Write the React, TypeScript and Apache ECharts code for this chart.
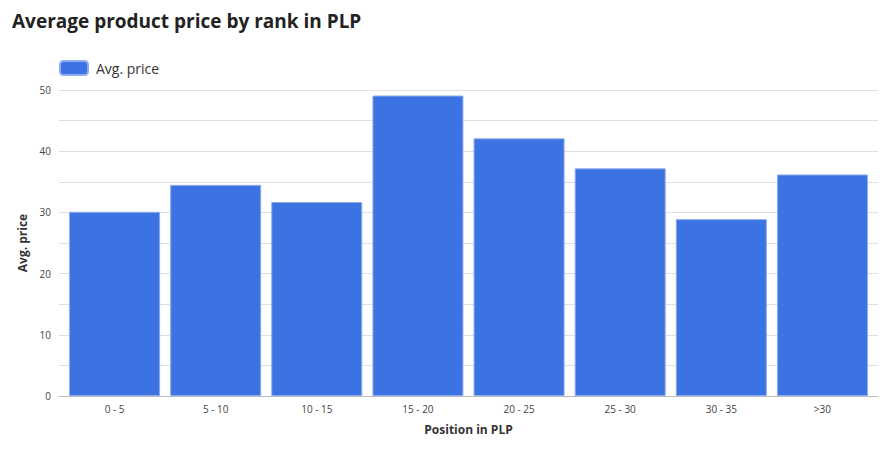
import React, { useEffect, useRef } from "react";
import * as echarts from "echarts";

const categories = ["0 - 5", "5 - 10", "10 - 15", "15 - 20", "20 - 25", "25 - 30", "30 - 35", ">30"];
const avgPrice = [30.1, 34.5, 31.7, 49.1, 42.1, 37.2, 28.9, 36.2];
const yTicks = [0, 10, 20, 30, 40, 50];

const FONT = "'Open Sans', 'Noto Sans', sans-serif";

export default function App() {
  const ref = useRef<HTMLDivElement>(null);
  useEffect(() => {
    if (!ref.current) return;
    const chart = echarts.init(ref.current, undefined, { renderer: "svg" });
    chart.setOption({
      animation: false,
      textStyle: { fontFamily: FONT },
      title: {
        text: "Average product price by rank in PLP",
        left: 4,
        top: 3,
        padding: 0,
        textStyle: { fontFamily: FONT, fontSize: 19, fontWeight: "bold", color: "#222" },
      },
      legend: {
        left: 46,
        top: 47,
        itemWidth: 28,
        itemHeight: 14,
        textStyle: { fontFamily: FONT, fontSize: 14, color: "#333", padding: [0, 0, 0, 3] },
        data: ["Avg. price"],
      },
      grid: [
        { left: 51, right: 8, top: 82, bottom: 45, containLabel: false },
        { left: 56, right: 13, top: 82, bottom: 45, containLabel: false },
      ],
      xAxis: [
        {
          type: "category",
          gridIndex: 0,
          data: categories,
          name: "Position in PLP",
          nameLocation: "middle",
          nameGap: 27,
          nameTextStyle: { fontFamily: FONT, fontSize: 12, fontWeight: "bold", color: "#333" },
          axisLine: { lineStyle: { color: "#bbb" } },
          axisTick: { show: false },
          axisLabel: { show: false },
        },
        {
          type: "category",
          gridIndex: 1,
          data: categories,
          axisLine: { show: false },
          axisTick: { show: false },
          axisLabel: { fontFamily: FONT, fontSize: 10, color: "#444", margin: 8 },
        },
      ],
      yAxis: [
        {
          type: "value",
          gridIndex: 0,
          min: 0,
          max: 50,
          interval: 5,
          name: "Avg. price",
          nameLocation: "middle",
          nameGap: 30,
          nameTextStyle: { fontFamily: FONT, fontSize: 12, fontWeight: "bold", color: "#333" },
          axisLine: { show: false },
          axisTick: { show: false },
          axisLabel: {
            fontFamily: FONT,
            fontSize: 10,
            color: "#444",
            margin: 8,
            formatter: (v: number) => (yTicks.indexOf(v) >= 0 ? String(v) : ""),
          },
          splitLine: { lineStyle: { color: "#e0e0e0" } },
        },
        {
          type: "value",
          gridIndex: 1,
          min: 0,
          max: 50,
          interval: 5,
          axisLine: { show: false },
          axisTick: { show: false },
          axisLabel: { show: false },
          splitLine: { show: false },
        },
      ],
      series: [
        {
          name: "Avg. price",
          type: "bar",
          xAxisIndex: 1,
          yAxisIndex: 1,
          data: avgPrice,
          barCategoryGap: "10%",
          itemStyle: { color: "#3b73e3", borderColor: "#8fabef", borderWidth: 1 },
        },
      ],
    });
    return () => chart.dispose();
  }, []);
  return <div ref={ref} style={{ width: 878, height: 433 }} />;
}
